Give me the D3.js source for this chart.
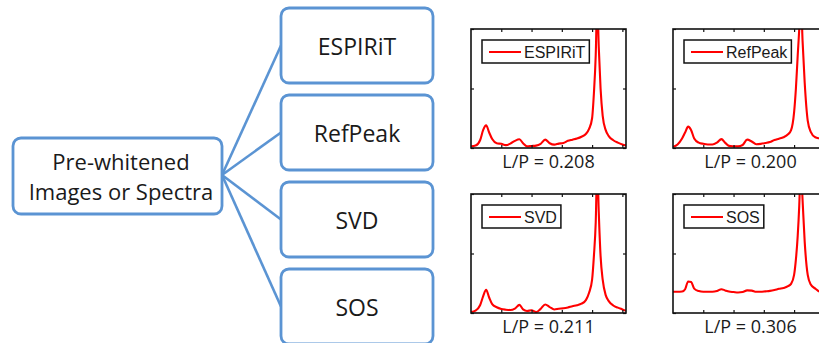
<!DOCTYPE html>
<html>
<head>
<meta charset="utf-8">
<script src="https://cdn.jsdelivr.net/npm/d3@7"></script>
<style>
  body { margin: 0; background: #fff; }
  svg { display: block; }
</style>
</head>
<body>
<svg id="fig" width="819" height="343"></svg>
<script>
// Coil-combination methods and their lipid-to-peak ratios
const methods = ["ESPIRiT", "RefPeak", "SVD", "SOS"];
const lpRatios = [0.208, 0.200, 0.211, 0.306];
const sourceLines = ["Pre-whitened", "Images or Spectra"];

// Frequency axis (arbitrary units) shared by all spectra
const freqAxis = [0, 0.15, 0.3, 0.4, 0.5, 0.6, 0.7, 0.85, 1.0, 1.15, 1.3, 1.45, 1.6, 1.72, 1.85,
  2.0, 2.15, 2.3, 2.45, 2.6, 2.75, 2.9, 3.05, 3.2, 3.35, 3.5, 3.65, 3.8, 3.9,
  4.0, 4.06, 4.12, 4.17, 4.22, 4.28, 4.35, 4.45, 4.55, 4.7, 4.85, 5.0, 5.12];

// Normalised magnitude spectra
const espiritSpectrum = [0.014, 0.02, 0.065, 0.15, 0.19, 0.13, 0.075, 0.04, 0.035, 0.024, 0.037, 0.06, 0.073, 0.04, 0.014,
  0.017, 0.02, 0.035, 0.07, 0.04, 0.028, 0.037, 0.042, 0.06, 0.07, 0.08, 0.095, 0.12, 0.16,
  0.25, 0.46, 0.78, 1.25, 0.85, 0.5, 0.27, 0.15, 0.1, 0.065, 0.045, 0.03, 0.022];
const refpeakSpectrum = [0.01, 0.03, 0.08, 0.13, 0.18, 0.15, 0.08, 0.045, 0.035, 0.03, 0.03, 0.045, 0.075, 0.045, 0.018,
  0.015, 0.014, 0.025, 0.07, 0.055, 0.032, 0.035, 0.042, 0.05, 0.067, 0.078, 0.09, 0.115, 0.15,
  0.3, 0.5, 0.78, 1.0, 1.3, 0.9, 0.55, 0.23, 0.136, 0.09, 0.08, 0.07, 0.06];
const svdSpectrum = [0.008, 0.02, 0.065, 0.14, 0.195, 0.13, 0.075, 0.048, 0.034, 0.028, 0.025, 0.037, 0.068, 0.03, 0.017,
  0.023, 0.008, 0.035, 0.072, 0.05, 0.03, 0.036, 0.04, 0.047, 0.057, 0.065, 0.078, 0.11, 0.17,
  0.28, 0.48, 0.76, 1.25, 0.85, 0.48, 0.28, 0.15, 0.1, 0.063, 0.045, 0.03, 0.018];
const sosSpectrum = [0.178, 0.178, 0.18, 0.2, 0.265, 0.26, 0.205, 0.184, 0.178, 0.178, 0.178, 0.184, 0.2, 0.19, 0.18,
  0.176, 0.172, 0.176, 0.19, 0.188, 0.178, 0.178, 0.182, 0.186, 0.193, 0.203, 0.21, 0.225, 0.245,
  0.32, 0.45, 0.65, 0.9, 1.25, 0.95, 0.6, 0.32, 0.24, 0.205, 0.18, 0.18, 0.18];

const xTickValues = [1, 2, 3, 4, 5];
const yTickValues = [0, 0.5, 1];

const spectra = [espiritSpectrum, refpeakSpectrum, svdSpectrum, sosSpectrum];

const svg = d3.select("#fig");
const blue = "#5b94d3";
const textFont = "'Open Sans', sans-serif";

// ---------- flow diagram ----------
const diagram = svg.append("g");
const src = { x: 13, y: 138, w: 209, h: 76 };
const box = { x: 281, w: 152, h: 75, top: 8, step: 87 };
const hub = [src.x + src.w, 175];

methods.forEach((m, i) => {
  const top = box.top + i * box.step;
  diagram.append("line")
    .attr("x1", hub[0]).attr("y1", hub[1])
    .attr("x2", box.x).attr("y2", top + box.h / 2)
    .attr("stroke", blue).attr("stroke-width", 2.6);
});

diagram.append("rect")
  .attr("x", src.x).attr("y", src.y).attr("width", src.w).attr("height", src.h)
  .attr("rx", 8).attr("fill", "#fff").attr("stroke", blue).attr("stroke-width", 2.8);

diagram.selectAll("text.src").data(sourceLines).join("text")
  .attr("class", "src")
  .attr("x", 121).attr("y", (d, i) => 169.5 + i * 30)
  .attr("text-anchor", "middle")
  .attr("font-family", textFont).attr("font-size", 22)
  .attr("fill", "#1a1a1a").text(d => d);

methods.forEach((m, i) => {
  const top = box.top + i * box.step;
  diagram.append("rect")
    .attr("x", box.x).attr("y", top).attr("width", box.w).attr("height", box.h)
    .attr("rx", 8).attr("fill", "#fff").attr("stroke", blue).attr("stroke-width", 2.8);
  diagram.append("text")
    .attr("x", box.x + box.w / 2).attr("y", top + 47)
    .attr("text-anchor", "middle")
    .attr("font-family", textFont).attr("font-size", 23)
    .attr("fill", "#1a1a1a").text(m);
});

// ---------- spectrum panels ----------
const pw = 155, ph = 119;
const colX = [471, 673], rowY = [29, 194];
const x = d3.scaleLinear().domain([0, 5.12]).range([0, pw]);
const y = d3.scaleLinear().domain([0, 1]).range([ph, 0]);
const line = d3.line()
  .x(d => x(d[0])).y(d => y(d[1]))
  .curve(d3.curveMonotoneX);

const defs = svg.append("defs");
defs.append("clipPath").attr("id", "plotClip")
  .append("rect").attr("width", pw).attr("height", ph);

methods.forEach((m, i) => {
  const g = svg.append("g")
    .attr("transform", `translate(${colX[i % 2]},${rowY[Math.floor(i / 2)]})`);

  const pts = freqAxis.map((f, k) => [f, spectra[i][k]]);

  g.append("path").datum(pts)
    .attr("clip-path", "url(#plotClip)")
    .attr("d", line)
    .attr("fill", "none").attr("stroke", "#ff0000").attr("stroke-width", 2.1)
    .attr("stroke-linejoin", "round");

  const tick = 3;
  const axes = [
    [d3.axisBottom(x).tickValues(xTickValues), `translate(0,${ph})`],
    [d3.axisTop(x).tickValues(xTickValues), "translate(0,0)"],
    [d3.axisLeft(y).tickValues(yTickValues), "translate(0,0)"],
    [d3.axisRight(y).tickValues(yTickValues), `translate(${pw},0)`]
  ];
  axes.forEach(([ax, tr]) => {
    const a = g.append("g").attr("transform", tr)
      .call(ax.tickSize(-tick).tickFormat(""));
    a.select(".domain").remove();
    a.selectAll(".tick line").attr("stroke", "#111").attr("stroke-width", 1.2);
  });

  g.append("rect").attr("width", pw).attr("height", ph)
    .attr("fill", "none").attr("stroke", "#111").attr("stroke-width", 1.6);

  // legend
  const lg = g.append("g").attr("transform", "translate(11,11)");
  const lbox = lg.append("rect").attr("height", 23)
    .attr("fill", "#fff").attr("stroke", "#111").attr("stroke-width", 1.5);
  lg.append("line").attr("x1", 7).attr("x2", 39).attr("y1", 12).attr("y2", 12)
    .attr("stroke", "#ff0000").attr("stroke-width", 2);
  const lt = lg.append("text").attr("x", 42).attr("y", 17.5)
    .attr("font-family", "'Liberation Sans', Arial, sans-serif").attr("font-size", 16)
    .attr("fill", "#1a1a1a").text(m);
  lbox.attr("width", 42 + lt.node().getComputedTextLength() + 4);

  // ratio label
  g.append("text")
    .attr("x", pw / 2).attr("y", ph + 20)
    .attr("text-anchor", "middle")
    .attr("font-family", textFont).attr("font-size", 18)
    .attr("fill", "#1a1a1a")
    .text(`L/P = ${lpRatios[i].toFixed(3)}`);
});
</script>
</body>
</html>
